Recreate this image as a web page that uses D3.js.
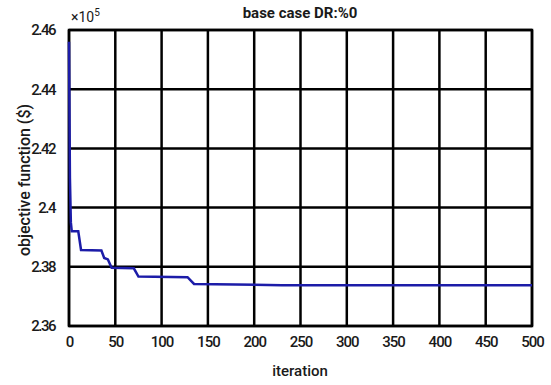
<!DOCTYPE html>
<html>
<head>
<meta charset="utf-8">
<script src="https://cdn.jsdelivr.net/npm/d3@7"></script>
<style>
	body { margin: 0; background: #fff; }
	svg text { font-family: Roboto, "Liberation Sans", sans-serif; fill: #1a1a1a; }
</style>
</head>
<body>
<svg id="chart" width="551" height="385"></svg>
<script>
// convergence curve (objective value in $)
const iterations = [0, 1, 2, 3, 10, 13, 35, 38, 42, 46, 70, 75, 128, 135, 180, 230, 500];
const objective = [245600, 241000, 239500, 239200, 239200, 238570, 238550, 238300, 238250, 237970,
	237950, 237670, 237650, 237420, 237400, 237380, 237380];
const xTicks = [0, 50, 100, 150, 200, 250, 300, 350, 400, 450, 500];
const yTicks = [236000, 238000, 240000, 242000, 244000, 246000];

const svg = d3.select('#chart');
const margin = {top: 30, right: 19, bottom: 59, left: 69};
const width = 551 - margin.left - margin.right;
const height = 385 - margin.top - margin.bottom;

const x = d3.scaleLinear().domain([0, 500]).range([margin.left, margin.left + width]);
const y = d3.scaleLinear().domain([236000, 246000]).range([margin.top + height, margin.top]);

// grid
svg.append('g')
	.selectAll('line.vgrid')
	.data(xTicks)
	.enter().append('line')
	.attr('x1', d => x(d)).attr('x2', d => x(d))
	.attr('y1', y.range()[1]).attr('y2', y.range()[0])
	.attr('stroke', '#000').attr('stroke-width', 2.5);
svg.append('g')
	.selectAll('line.hgrid')
	.data(yTicks)
	.enter().append('line')
	.attr('x1', x.range()[0]).attr('x2', x.range()[1])
	.attr('y1', d => y(d)).attr('y2', d => y(d))
	.attr('stroke', '#000').attr('stroke-width', 2.5);

// frame
svg.append('rect')
	.attr('x', margin.left).attr('y', margin.top)
	.attr('width', width).attr('height', height)
	.attr('fill', 'none').attr('stroke', '#000').attr('stroke-width', 2.5);

// axes labels
const xAxis = d3.axisBottom(x).tickValues(xTicks).tickSize(0).tickPadding(10);
const gx = svg.append('g').attr('transform', 'translate(0,' + (margin.top + height) + ')').call(xAxis);
gx.select('.domain').remove();
gx.selectAll('text').attr('font-size', 15).attr('font-family', 'Roboto, sans-serif')
	.attr('fill', '#1a1a1a').attr('letter-spacing', -1).attr('font-weight', 500);

const yAxis = d3.axisLeft(y).tickValues(yTicks).tickSize(0).tickPadding(14)
	.tickFormat(d => d3.format('')(+(d / 1e5).toFixed(2)));
const gy = svg.append('g').attr('transform', 'translate(' + margin.left + ',0)').call(yAxis);
gy.select('.domain').remove();
gy.selectAll('text').attr('font-size', 15).attr('font-family', 'Roboto, sans-serif')
	.attr('fill', '#1a1a1a').attr('letter-spacing', -1.5).attr('font-weight', 500);

// curve
const line = d3.line()
	.x((d, i) => x(iterations[i]))
	.y(d => y(d));
svg.append('path')
	.datum(objective)
	.attr('d', line)
	.attr('fill', 'none')
	.attr('stroke', '#1c1ca8')
	.attr('stroke-width', 2.5);

// exponent
const ex = svg.append('text')
	.attr('x', margin.left + 2).attr('y', margin.top - 8)
	.attr('font-size', 14);
ex.append('tspan').text('\u00d710');
ex.append('tspan').text('5').attr('font-size', 10).attr('dy', -6);

// title
svg.append('text')
	.attr('x', 300).attr('y', 18)
	.attr('text-anchor', 'middle')
	.attr('font-size', 15).attr('font-weight', 'bold')
	.text('base case DR:%0');

svg.append('text')
	.attr('x', 300).attr('y', 376)
	.attr('text-anchor', 'middle')
	.attr('font-size', 15).attr('font-weight', 500)
	.text('iteration');

svg.append('text')
	.attr('transform', 'translate(30,' + (margin.top + height / 2 + 2) + ') rotate(-90)')
	.attr('text-anchor', 'middle')
	.attr('font-size', 16).attr('font-weight', 500)
	.text('objective function ($)');
</script>
</body>
</html>
